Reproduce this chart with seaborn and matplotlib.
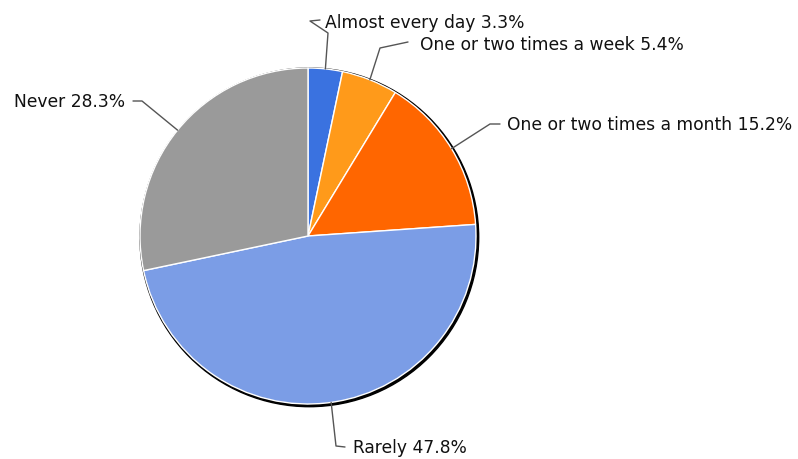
import numpy as np
import matplotlib
matplotlib.use("Agg")
import matplotlib.pyplot as plt
import seaborn as sns

# Data
categories = ["Almost every day", "One or two times a week", "One or two times a month",
              "Rarely", "Never"]
shares = [3.3, 5.4, 15.2, 47.8, 28.3]
colors = ["#3a72e0", "#ff9a1a", "#ff6600", "#7b9de6", "#9a9a9a"]

# Label layout (pixel positions in the 798x459 canvas): elbow points and text anchor
PX_CX, PX_CY, PX_R = 308, 236, 168
label_paths = [
    [(328, 33), (310, 21), (320, 20)],
    [(380, 48), (408, 42)],
    [(490, 124), (500, 124)],
    [(336, 446), (345, 447)],
    [(142, 101), (133, 101)],
]
label_text_pos = [(325, 23, "left"), (420, 45, "left"), (507, 125, "left"),
                  (353, 448, "left"), (125, 102, "right")]


def px(x, y):
    return (x - PX_CX) / PX_R, (PX_CY - y) / PX_R


sns.set_theme(style="white")
plt.rcParams["font.family"] = ["DejaVu Sans"]

fig = plt.figure(figsize=(7.98, 4.59), dpi=100)
ax = fig.add_axes([0, 0, 1, 1])

# dark rim / shadow behind the pie (thin top-left, heavier bottom-right)
ax.add_patch(plt.Circle((0.008, -0.008), 1.008, color="black", zorder=1))

wedges, _ = ax.pie(shares, colors=colors, startangle=90, counterclock=False,
                   radius=1.0, wedgeprops=dict(edgecolor="white", linewidth=1.0))
for w in wedges:
    w.set_zorder(2)

for w, cat, val, path, (tx, ty, ha) in zip(wedges, categories, shares,
                                            label_paths, label_text_pos):
    mid = np.deg2rad((w.theta1 + w.theta2) / 2)
    pts = [(np.cos(mid), np.sin(mid))] + [px(*p) for p in path]
    xs, ys = zip(*pts)
    ax.plot(xs, ys, color="#555555", lw=1.0, zorder=3)
    x, y = px(tx, ty)
    ax.text(x, y, f"{cat} {val:.1f}%", ha=ha, va="center", fontsize=12.3,
            color="#111111", zorder=4)

ax.set_aspect("auto")
ax.set_xlim(-PX_CX / PX_R, (798 - PX_CX) / PX_R)
ax.set_ylim(-(459 - PX_CY) / PX_R, PX_CY / PX_R)
ax.axis("off")

fig.savefig("out.png", dpi=100)
